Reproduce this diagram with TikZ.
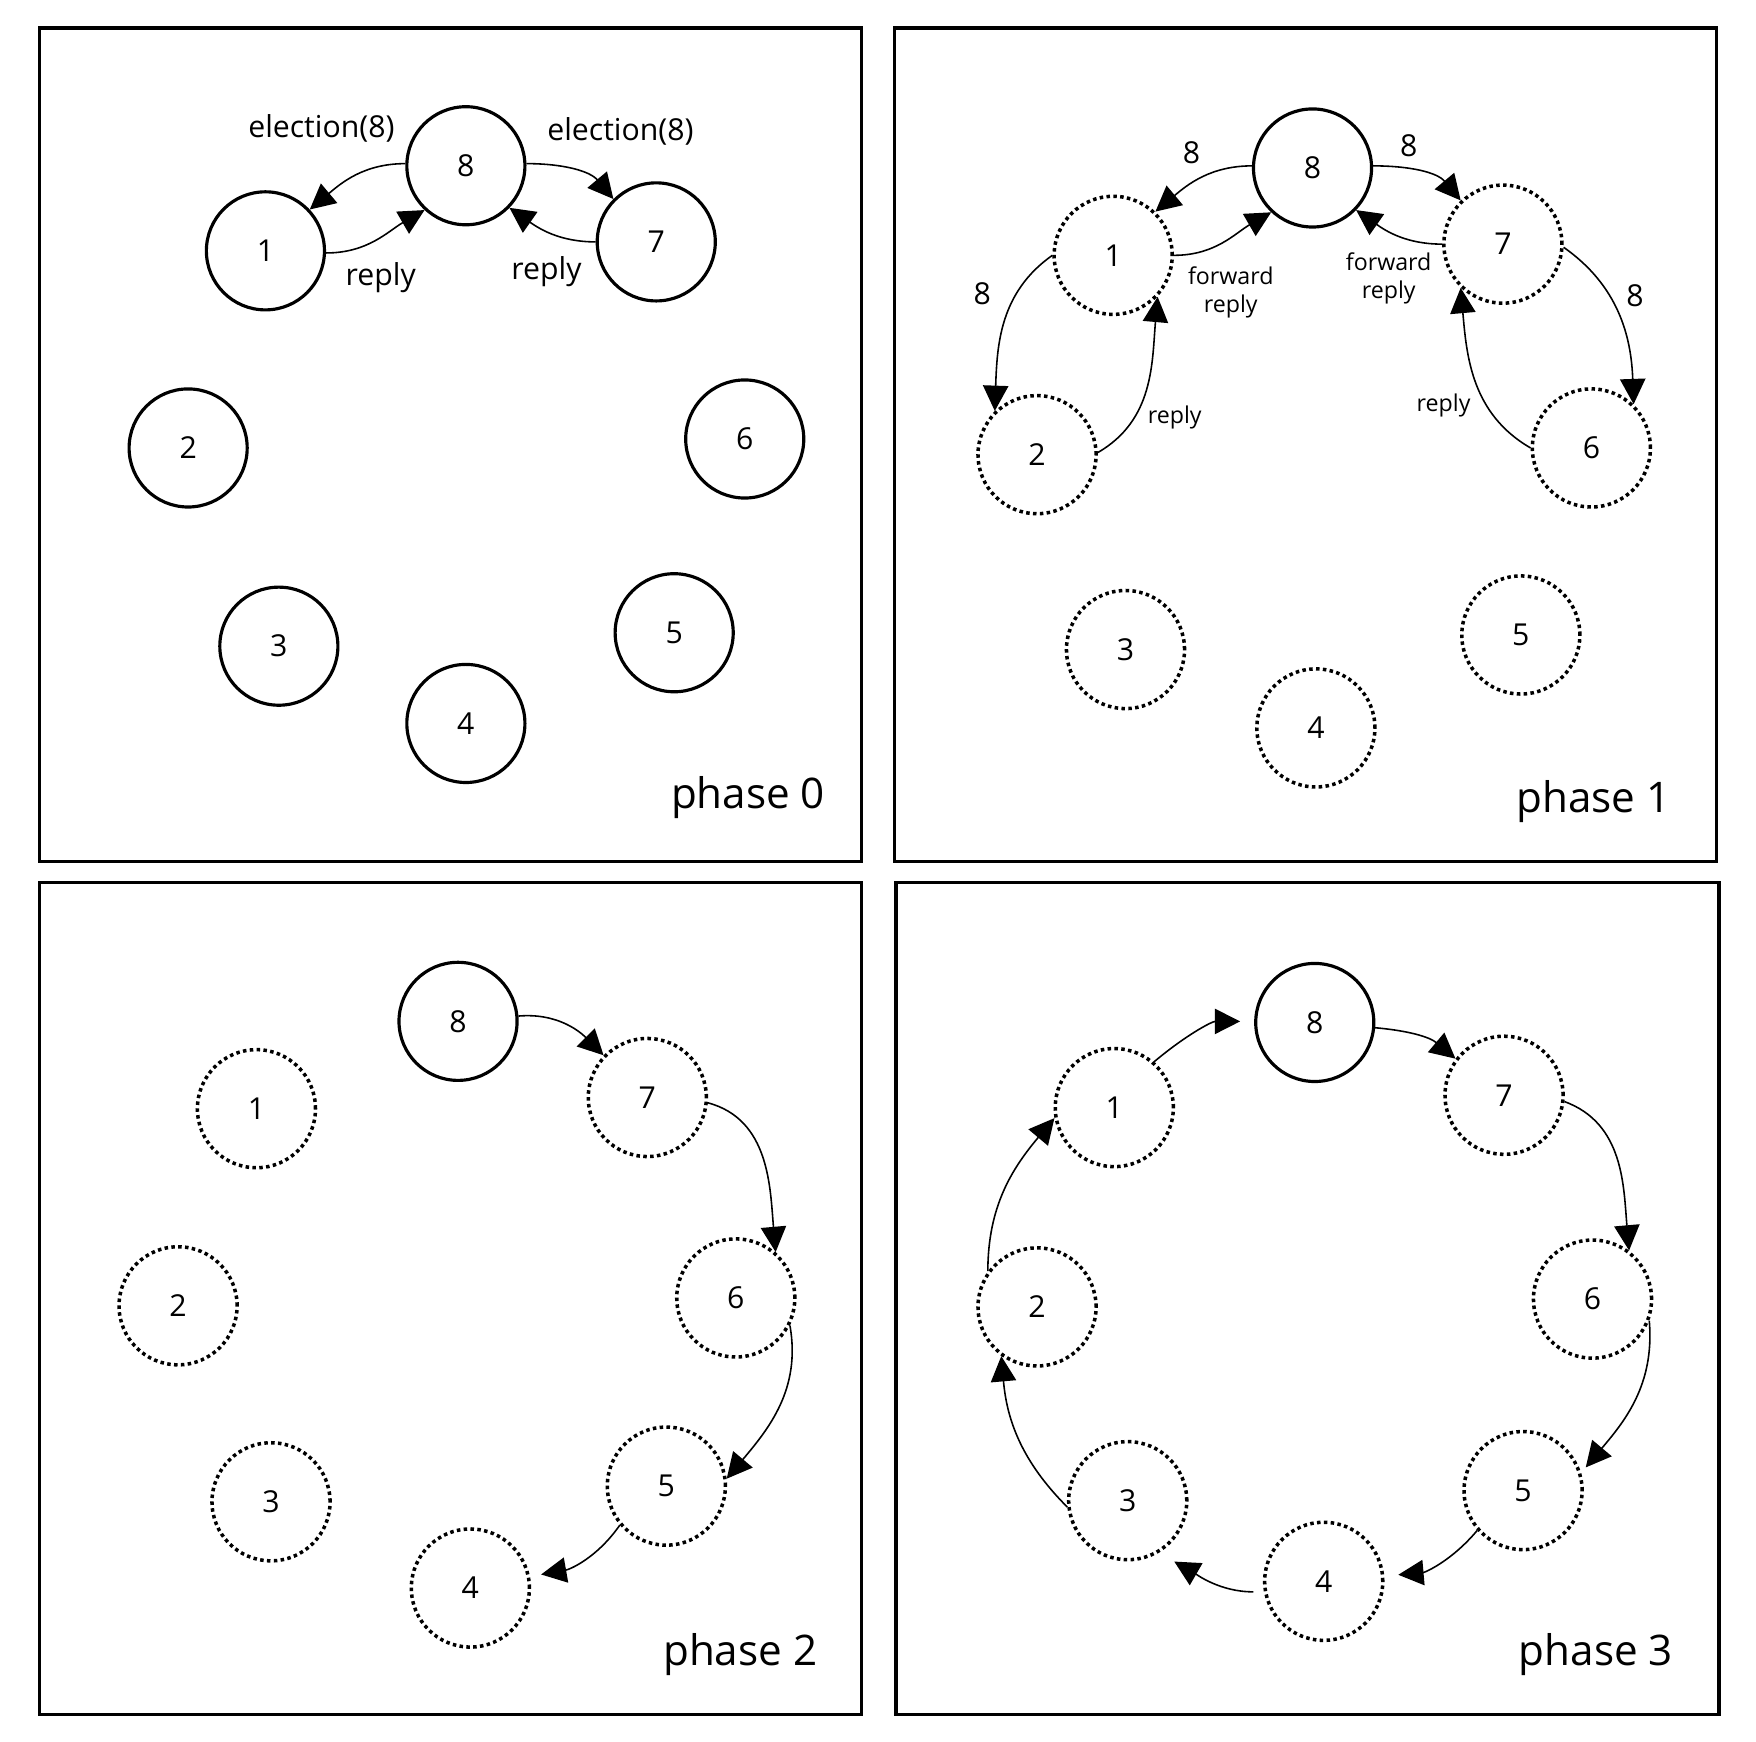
\documentclass[tikz,border=0pt]{standalone}
\usepackage{fontspec}
\setmainfont{Open Sans}
\usetikzlibrary{arrows.meta}
\tikzset{
  proc/.style={circle, draw, line width=0.9pt, minimum size=33.6pt, inner sep=0pt,
               font=\fontsize{8.6}{10}\selectfont},
  dotproc/.style={proc, line width=1pt, dash pattern=on 1pt off 0.95pt},
  msg/.style={-{Triangle[length=7.2pt,width=7.2pt]}, line width=0.45pt},
  lbl/.style={font=\fontsize{8.6}{10}\selectfont, inner sep=0pt},
  slbl/.style={font=\fontsize{6.6}{8}\selectfont, inner sep=0pt, align=center},
  phaselbl/.style={font=\fontsize{12}{14}\selectfont, inner sep=0pt},
  panel/.style={line width=0.9pt}
}
\begin{document}
\begin{tikzpicture}[x=0.112mm, y=0.112mm]
\useasboundingbox (0,0) rectangle (1568,-1555);
% panels
\draw[panel] (35,-25) rectangle (769,-769);
\draw[panel] (799,-25) rectangle (1533,-769);
\draw[panel] (35,-788) rectangle (769,-1531);
\draw[panel] (800,-788) rectangle (1535,-1531);

% ---------- phase 0 ----------
\node[proc] (a8) at (416,-148) {8};
\node[proc] (a1) at (237,-224) {1};
\node[proc] (a7) at (586,-216) {7};
\node[proc] (a2) at (168,-400) {2};
\node[proc] (a6) at (665,-392) {6};
\node[proc] (a3) at (249,-577) {3};
\node[proc] (a5) at (602,-565) {5};
\node[proc] (a4) at (416,-646) {4};
\draw[msg] (a8.178) to[out=180,in=40] (a1.43);
\draw[msg] (a1.-2) to[out=0,in=210] (a8.227);
\draw[msg] (a8.2) to[out=0,in=130] (a7.135);
\draw[msg] (a7.180) to[out=180,in=-35] (a8.316);
\node[lbl] (ta1) at (287,-115) {election(8)};
\node[lbl] (ta2) at (554,-117) {election(8)};
\node[lbl] (ta3) at (340,-248) {reply};
\node[lbl] (ta4) at (488,-243) {reply};
\node[phaselbl] (pa) at (668,-712) {phase 0};

% ---------- phase 1 ----------
\node[proc] (b8) at (1172,-150) {8};
\node[dotproc] (b1) at (994,-228) {1};
\node[dotproc] (b7) at (1342,-218) {7};
\node[dotproc] (b2) at (926,-406) {2};
\node[dotproc] (b6) at (1421,-400) {6};
\node[dotproc] (b3) at (1005,-580) {3};
\node[dotproc] (b5) at (1358,-567) {5};
\node[dotproc] (b4) at (1175,-650) {4};
\draw[msg] (b8.178) to[out=180,in=40] (b1.46);
\draw[msg] (b1.0) to[out=0,in=210] (b8.227);
\draw[msg] (b8.2) to[out=0,in=130] (b7.134);
\draw[msg] (b7.180) to[out=180,in=-35] (b8.316);
\draw[msg] (b1.180) to[out=215,in=88] (b2.134);
\draw[msg] (b2.2) to[out=30,in=-95] (b1.317);
\draw[msg] (b7.-3) to[out=-35,in=92] (b6.46);
\draw[msg] (b6.180) to[out=150,in=-85] (b7.226);
\node[lbl] (tb1) at (1064,-136) {8};
\node[lbl] (tb2) at (1258,-130) {8};
\node[lbl] (tb3) at (877,-262) {8};
\node[lbl] (tb4) at (1460,-264) {8};
\node[slbl] (tb5) at (1099,-261) {forward\\reply};
\node[slbl] (tb6) at (1240,-249) {forward\\reply};
\node[slbl] (tb7) at (1049,-373) {reply};
\node[slbl] (tb8) at (1289,-362) {reply};
\node[phaselbl] (pb) at (1423,-716) {phase 1};

% ---------- phase 2 ----------
\node[proc] (c8) at (409,-912) {8};
\node[dotproc] (c1) at (229,-990) {1};
\node[dotproc] (c7) at (578,-980) {7};
\node[dotproc] (c2) at (159,-1166) {2};
\node[dotproc] (c6) at (657,-1159) {6};
\node[dotproc] (c3) at (242,-1341) {3};
\node[dotproc] (c5) at (595,-1327) {5};
\node[dotproc] (c4) at (420,-1418) {4};
\draw[msg] (c8.5) to[out=5,in=135] (c7.136);
\draw[msg] (c7.-5) to[out=-15,in=95] (c6.49);
\draw[msg] (c6.-27) to[out=-80,in=50] (c5.7);
\draw[msg, shorten >=3.2pt] (c5.220) to[out=235,in=10] (c4.11);
\node[phaselbl] (pc) at (661,-1477) {phase 2};

% ---------- phase 3 ----------
\node[proc] (d8) at (1174,-913) {8};
\node[dotproc] (d1) at (995,-989) {1};
\node[dotproc] (d7) at (1343,-978) {7};
\node[dotproc] (d2) at (926,-1167) {2};
\node[dotproc] (d6) at (1422,-1160) {6};
\node[dotproc] (d3) at (1007,-1340) {3};
\node[dotproc] (d5) at (1360,-1331) {5};
\node[dotproc] (d4) at (1182,-1412) {4};
\draw[msg, shorten >=4pt] (d1.49) to[out=40,in=180] (d8.179);
\draw[msg] (d8.-5) to[out=-5,in=140] (d7.143);
\draw[msg] (d7.-6) to[out=-20,in=95] (d6.53);
\draw[msg, shorten >=2pt] (d6.-21) to[out=-85,in=50] (d5.17);
\draw[msg, shorten >=4pt] (d5.221) to[out=230,in=5] (d4.5);
\draw[msg, shorten <=3pt, shorten >=5pt] (d4.190) to[out=180,in=-30] (d3.-59);
\draw[msg] (d3.186) to[out=135,in=-85] (d2.234);
\draw[msg] (d2.144) to[out=90,in=230] (d1.190);
\node[phaselbl] (pd) at (1425,-1477) {phase 3};
\end{tikzpicture}
\end{document}
